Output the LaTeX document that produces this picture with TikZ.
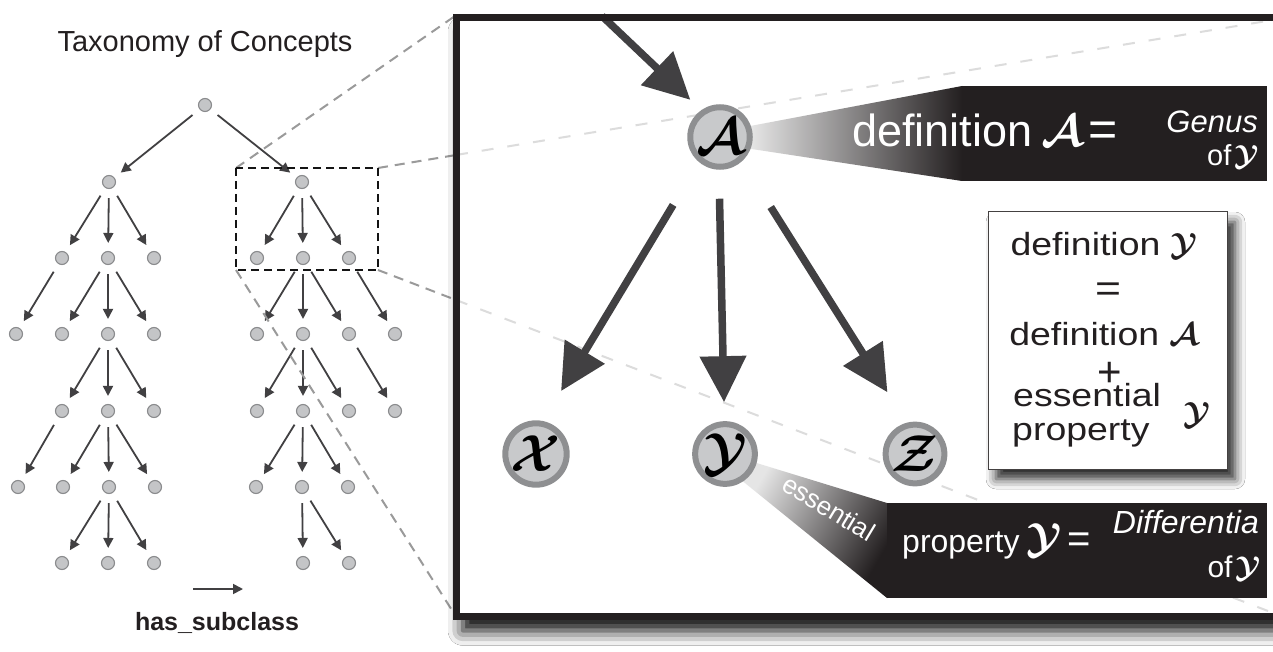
\RequirePackage{fix-cm}
\documentclass[tikz,border=0pt]{standalone}
\usepackage{fontspec}
\setmainfont{Liberation Sans}
\usetikzlibrary{arrows.meta,shadows.blur}
\definecolor{treefill}{HTML}{C4C5C7}
\definecolor{treedraw}{HTML}{8A8B8D}
\definecolor{edgecol}{HTML}{414042}
\definecolor{dashgray}{HTML}{9A9A9A}
\definecolor{lightdash}{HTML}{DCDCDC}
\definecolor{framecol}{HTML}{231F20}
\definecolor{circfill}{HTML}{C8C9CB}
\definecolor{ringcol}{HTML}{8E8F91}
\definecolor{boxblack}{HTML}{231F20}
\newcommand{\scrl}[1]{\mbox{\boldmath$\mathcal{#1}$}}
\newcommand{\fsz}[1]{\fontsize{#1}{#1}\selectfont}
\newcommand{\wide}[1]{\scalebox{1.17}[1]{#1}}
\begin{document}
\begin{tikzpicture}[x=1pt,y=-1pt,
  tnode/.style={circle, fill=treefill, draw=treedraw, line width=1.1pt, minimum size=13pt, inner sep=0pt},
  tedge/.style={draw=edgecol, line width=1.8pt, -{Triangle[length=10pt,width=10pt]}, shorten <=9pt, shorten >=8pt},
  zoomdash/.style={draw=dashgray, line width=2pt, dash pattern=on 10pt off 7pt},
  lightline/.style={draw=lightdash, line width=2pt, dash pattern=on 12pt off 14pt},
  bignode/.style={circle, fill=circfill, draw=ringcol, line width=6pt, minimum size=54pt, inner sep=0pt, font=\fsz{52}},
  bigarrow/.style={draw=edgecol, line width=7.5pt, -{Triangle[length=46pt,width=45pt]}},
  wtext/.style={text=white},
  btext/.style={text=framecol, font=\fsz{32}}
]
\useasboundingbox (0,0) rectangle (1273,652);
\fill[white] (0,0) rectangle (1273,652);

% ---------- title ----------
\node[font=\fsz{29}, anchor=base, text=framecol] (title) at (205,52) {Taxonomy of Concepts};

% ---------- tree nodes ----------
\node[tnode] (n0) at (205,105) {};
\node[tnode] (a1) at (109,182) {};
\node[tnode] (b1) at (302,182) {};
\node[tnode] (a21) at (62,258) {};
\node[tnode] (a22) at (108,258) {};
\node[tnode] (a23) at (154,258) {};
\node[tnode] (b21) at (257,258) {};
\node[tnode] (b22) at (303,258) {};
\node[tnode] (b23) at (349,258) {};
\node[tnode] (a31) at (16,334) {};
\node[tnode] (a32) at (62,334) {};
\node[tnode] (a33) at (108,334) {};
\node[tnode] (a34) at (154,334) {};
\node[tnode] (b31) at (257,334) {};
\node[tnode] (b32) at (303,334) {};
\node[tnode] (b33) at (349,334) {};
\node[tnode] (b34) at (395,334) {};
\node[tnode] (a41) at (62,411) {};
\node[tnode] (a42) at (108,411) {};
\node[tnode] (a43) at (154,411) {};
\node[tnode] (b41) at (257,411) {};
\node[tnode] (b42) at (303,411) {};
\node[tnode] (b43) at (349,411) {};
\node[tnode] (b44) at (395,411) {};
\node[tnode] (a51) at (18,487) {};
\node[tnode] (a52) at (63,487) {};
\node[tnode] (a53) at (109,487) {};
\node[tnode] (a54) at (155,487) {};
\node[tnode] (b51) at (256,487) {};
\node[tnode] (b52) at (302,487) {};
\node[tnode] (b53) at (348,487) {};
\node[tnode] (a61) at (62,563) {};
\node[tnode] (a62) at (108,563) {};
\node[tnode] (a63) at (154,563) {};
\node[tnode] (b61) at (303,563) {};
\node[tnode] (b62) at (349,563) {};

% ---------- tree edges ----------
\foreach \s/\t in {n0/a1,n0/b1,a1/a21,a1/a22,a1/a23,b1/b21,b1/b22,b1/b23,
  a21/a31,a22/a32,a22/a33,a22/a34,b22/b31,b22/b32,b22/b33,b23/b34,
  a33/a41,a33/a42,a33/a43,b32/b41,b32/b42,b32/b43,b33/b44,
  a41/a51,a42/a52,a42/a53,a42/a54,b42/b51,b42/b52,b42/b53,
  a53/a61,a53/a62,a53/a63,b52/b61,b52/b62}
  \draw[tedge] (\s) -- (\t);

% ---------- legend ----------
\coordinate (lg1) at (193,589);
\coordinate (lg2) at (243,589);
\draw[tedge, shorten <=0pt, shorten >=0pt] (lg1) -- (lg2);
\node[font=\bfseries\fsz{25}, anchor=base, text=framecol] (leg) at (217,630) {has\_subclass};

% ---------- zoom rectangle and lines ----------
\coordinate (rTL) at (236,168);
\coordinate (rTR) at (378,168);
\coordinate (rBR) at (378,270);
\coordinate (rBL) at (236,270);
\coordinate (fTL) at (455,16);
\coordinate (fL1) at (456,155);
\coordinate (fL2) at (456,300);
\coordinate (fBL) at (455,615);
\coordinate (fTR) at (1273,20);
\coordinate (fBR) at (1268,611);
\draw[zoomdash] (rTL) -- (fTL);
\draw[zoomdash] (rTR) -- (fL1);
\draw[zoomdash] (rBR) -- (fL2);
\draw[zoomdash] (rBL) -- (fBL);
\draw[black!92, line width=2.2pt, dash pattern=on 8pt off 5pt] (rTL) rectangle (rBR);

% ---------- big frame ----------
\path[fill=white, blur shadow={shadow xshift=7pt, shadow yshift=-14pt, shadow blur radius=15pt, shadow opacity=100}]
  (456,17.5) rectangle (1320,616.5);
\draw[lightline] (fL1) -- (fTR);
\draw[lightline] (fL2) -- (fBR);

% ---------- wedges and black boxes ----------
\shade[left color=white!92!black, right color=boxblack]
  (745,127) -- (962,86) -- (962,181) -- (745,148) -- cycle;
\fill[boxblack] (962,86) rectangle (1267,181);
\shade[left color=white!90!black, right color=boxblack, shading angle=60]
  (750,461) -- (887,503) -- (887,598) -- (740,479) -- cycle;
\fill[boxblack] (887,503) rectangle (1267,598);

\node[wtext, font=\fsz{45}, anchor=base west, inner sep=0pt] (defA) at (852,147) {definition\hspace{9pt}\scrl{A}\hspace{6pt}{\fsz{50}=}};
\node[wtext, font=\itshape\fsz{31}, anchor=base east, inner sep=0pt] (genus) at (1258,133) {Genus};
\node[wtext, font=\fsz{29}, anchor=base east, inner sep=0pt] (ofY1) at (1259,166) {of\hspace{3pt}\scrl{Y}};

\node[wtext, font=\fsz{26}, rotate=-31, inner sep=0pt] (ess) at (829,508) {essential};
\node[wtext, font=\fsz{32}, anchor=base west, inner sep=0pt] (propY) at (902,552) {property\hspace{7pt}{\fsz{42}\scrl{Y}}\hspace{5pt}{\fsz{40}=}};
\node[wtext, font=\itshape\fsz{32}, anchor=base east, inner sep=0pt] (diff) at (1259,533) {Differentia};
\node[wtext, font=\fsz{30}, anchor=base east, inner sep=0pt] (ofY2) at (1261,577) {of\hspace{3pt}\scrl{Y}};

% ---------- concept circles ----------
\node[bignode] (A) at (720,137) {\scrl{A}};
\node[bignode] (X) at (536,454) {\scrl{X}};
\node[bignode] (Y) at (725,454) {\scrl{Y}};
\node[bignode] (Z) at (915,454) {\scrl{Z}};

% ---------- big arrows ----------
\coordinate (tin) at (602,16);
\draw[bigarrow, shorten >=15pt] (tin) -- (A.125);
\draw[bigarrow, shorten <=50pt, shorten >=35pt] (A.230) -- (X.78);
\draw[bigarrow, shorten <=29pt, shorten >=19pt] (A.268) -- (Y.91);
\draw[bigarrow, shorten <=54pt, shorten >=36pt] (A.312) -- (Z.105);

% ---------- frame border ----------
\draw[framecol, line width=7pt] (456,17.5) rectangle (1320,616.5);

% ---------- white definition box ----------
\node[draw=framecol!85, line width=1pt, fill=white, minimum width=239pt, minimum height=257pt, inner sep=0pt,
  blur shadow={shadow xshift=8pt, shadow yshift=-10pt, shadow blur radius=10pt, shadow opacity=85}] (wb) at (1107.5,340.5) {};
\node[btext, anchor=base, inner sep=0pt] (w1) at (1104,255) {\wide{definition}\hspace{10pt}\scrl{Y}};
\node[btext, font=\fsz{38}, anchor=base, inner sep=0pt] (w2) at (1108,301) {\wide{=}};
\node[btext, anchor=base, inner sep=0pt] (w3) at (1104,345) {\wide{definition}\hspace{10pt}\scrl{A}};
\node[btext, font=\fsz{42}, anchor=base, inner sep=0pt] (w4) at (1110,386) {+};
\node[btext, anchor=base west, inner sep=0pt] (w5) at (1013,406) {\wide{essential}};
\node[btext, anchor=base west, inner sep=0pt] (w6) at (1012,440) {\wide{property}};
\node[btext, inner sep=0pt] (w7) at (1197,415) {\scrl{Y}};
\end{tikzpicture}
\end{document}
